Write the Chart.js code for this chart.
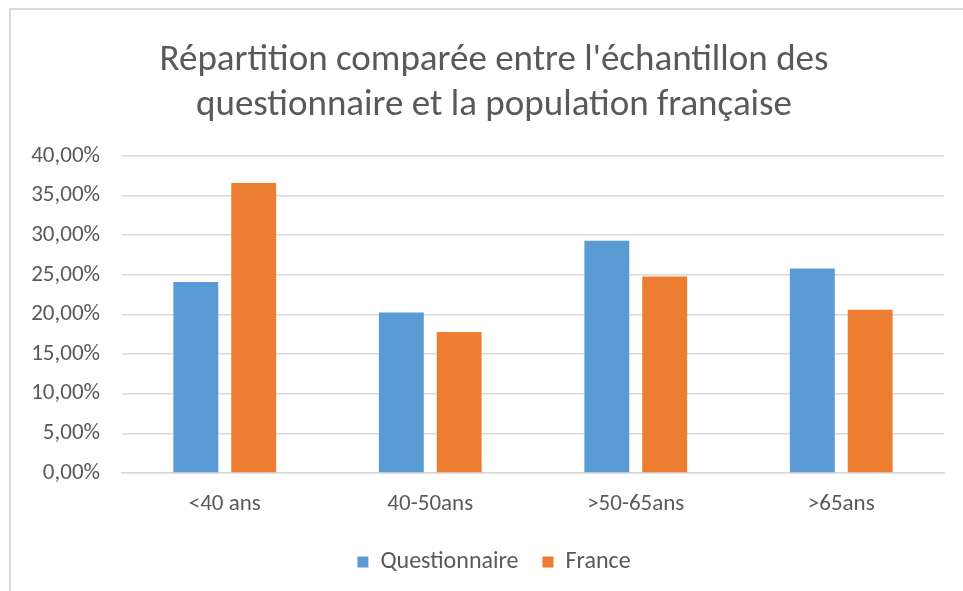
<!DOCTYPE html>
<html lang="fr">
<head>
<meta charset="utf-8">
<title>Répartition comparée</title>
<script src="https://cdn.jsdelivr.net/npm/chart.js@4.4.1/dist/chart.umd.min.js"></script>
<style>
    html, body { margin: 0; padding: 0; background: #fff; }
    .wrap { position: relative; width: 963px; height: 591px; overflow: hidden; }
    .frame { position: absolute; left: 9px; top: 8px; right: -10px; bottom: -10px;
             border-left: 2px solid #d9d9d9; border-top: 2px solid #d9d9d9; }
    canvas { position: absolute; left: 0; top: 0; }
</style>
</head>
<body>
<div class="wrap">
    <div class="frame"></div>
    <canvas id="chart" width="963" height="591"></canvas>
</div>
<script>
// données (en %)
const categories = ['<40 ans', '40-50ans', '>50-65ans', '>65ans'];
const questionnaire = [24.1, 20.25, 29.3, 25.8];
const france = [36.6, 17.8, 24.8, 20.6];
const titleLines = ["Répartition comparée entre l'échantillon des", 'questionnaire et la population française'];

const FONT = 'Carlito, Lato, "Open Sans", sans-serif';
const GREY = '#595959';

new Chart(document.getElementById('chart').getContext('2d'), {
    type: 'bar',
    data: {
        labels: categories,
        datasets: [
            { label: 'Questionnaire', data: questionnaire, backgroundColor: '#5b9bd5',
              categoryPercentage: 0.563, barPercentage: 0.776 },
            { label: 'France', data: france, backgroundColor: '#ed7d31',
              categoryPercentage: 0.563, barPercentage: 0.776 }
        ]
    },
    options: {
        responsive: false,
        animation: false,
        // boîte élargie à droite : titre et légende centrés comme dans Excel
        layout: { padding: { left: 0, right: -25, top: 0, bottom: 7 } },
        plugins: {
            title: {
                display: true,
                text: titleLines,
                color: GREY,
                font: { family: FONT, size: 37, weight: 'normal', lineHeight: 1.216 },
                padding: { top: 38, bottom: 28 }
            },
            legend: {
                position: 'bottom',
                labels: {
                    color: GREY,
                    font: { family: FONT, size: 24 },
                    boxWidth: 11,
                    boxHeight: 11,
                    padding: 24
                }
            },
            tooltip: { enabled: false }
        },
        scales: {
            x: {
                afterFit: scale => { scale.height = 53; },
                grid: { display: false, drawTicks: false },
                border: { display: true, color: '#d9d9d9', width: 1.5 },
                ticks: { color: GREY, font: { family: FONT, size: 23 }, padding: 17 }
            },
            y: {
                min: 0,
                max: 40,
                afterFit: scale => { scale.width = 122; },
                grid: { color: '#d9d9d9', lineWidth: 1.5, drawTicks: false },
                border: { display: false },
                ticks: {
                    stepSize: 5,
                    color: GREY,
                    padding: 22,
                    font: { family: FONT, size: 23 },
                    callback: v => v.toFixed(2).replace('.', ',') + '%'
                }
            },
            // axe vide à droite, sert seulement de marge
            marge: {
                type: 'linear',
                position: 'right',
                afterFit: scale => { scale.width = 44; },
                grid: { display: false, drawTicks: false },
                border: { display: false },
                ticks: { display: false }
            }
        }
    }
});
</script>
</body>
</html>
